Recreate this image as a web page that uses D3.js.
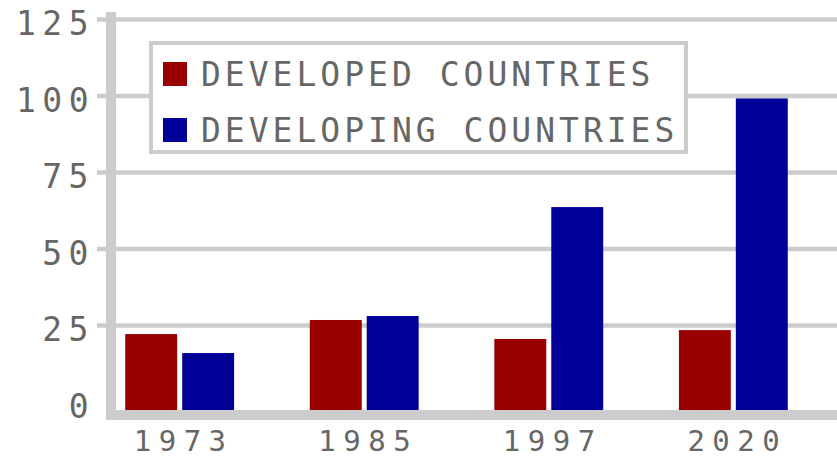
<!DOCTYPE html>
<html>
<head>
<meta charset="utf-8">
<script src="https://cdn.jsdelivr.net/npm/d3@7"></script>
<style>
  body { margin: 0; background: #fff; }
  svg { display: block; }
  .lbl { font-family: "DejaVu Sans Mono", monospace; fill: #666; font-size: 33px; }
</style>
</head>
<body>
<svg width="837" height="458"></svg>
<script>
// values
var years = ["1973", "1985", "1997", "2020"];
var developed = [22.2, 26.8, 20.6, 23.5];
var developing = [16.0, 28.1, 63.7, 99.2];
var seriesNames = ["DEVELOPED COUNTRIES", "DEVELOPING COUNTRIES"];
var seriesColors = ["#990000", "#000099"];
var yTicks = [0, 25, 50, 75, 100, 125];

var svg = d3.select("svg"),
    width = +svg.attr("width"),
    height = +svg.attr("height");

var grey = "#cccccc";

var y = d3.scaleLinear().domain([0, 125]).range([402, 19.5]);
var baseline = y(0) + 8;

var x0 = d3.scaleBand().domain(years).range([116, 797])
    .paddingInner(0.41).paddingOuter(0.05);
var x1 = d3.scaleBand().domain([0, 1]).range([0, x0.bandwidth()])
    .paddingInner(0.0877);

var rows = years.map(function(d, i) {
  return { year: d, values: [developed[i], developing[i]] };
});

// gridlines
svg.append("g")
  .selectAll("line")
  .data(yTicks.filter(function(d) { return d > 0; }))
  .enter().append("line")
    .attr("x1", 97)
    .attr("x2", width)
    .attr("y1", function(d) { return y(d); })
    .attr("y2", function(d) { return y(d); })
    .attr("stroke", grey)
    .attr("stroke-width", 4.5);

// tick labels
svg.append("g")
  .selectAll("text")
  .data(yTicks)
  .enter().append("text")
    .attr("class", "lbl")
    .attr("x", 95)
    .attr("y", function(d) { return y(d) + 4; })
    .attr("text-anchor", "end")
    .attr("dominant-baseline", "central")
    .style("letter-spacing", "6.5px")
    .text(function(d) { return d; });

// bars
var group = svg.append("g")
  .selectAll("g")
  .data(rows)
  .enter().append("g")
    .attr("transform", function(d) { return "translate(" + x0(d.year) + ",0)"; });

group.selectAll("rect")
  .data(function(d) { return d.values; })
  .enter().append("rect")
    .attr("x", function(d, i) { return x1(i); })
    .attr("y", function(d) { return y(d); })
    .attr("width", x1.bandwidth())
    .attr("height", function(d) { return baseline - y(d); })
    .attr("fill", function(d, i) { return seriesColors[i]; });

// axes bars
svg.append("rect")
  .attr("x", 106).attr("y", 12)
  .attr("width", 10).attr("height", baseline + 10 - 12)
  .attr("fill", grey);
svg.append("rect")
  .attr("x", 106).attr("y", baseline)
  .attr("width", width - 106).attr("height", 10)
  .attr("fill", grey);

// x labels
svg.append("g")
  .selectAll("text")
  .data(years)
  .enter().append("text")
    .attr("class", "lbl")
    .attr("x", function(d) { return x0(d) + x0.bandwidth() / 2 + 4; })
    .attr("y", 451)
    .attr("text-anchor", "middle")
    .style("font-size", "29px")
    .style("letter-spacing", "7.5px")
    .text(function(d) { return d; });

// legend
var legend = svg.append("g");
legend.append("rect")
  .attr("x", 151).attr("y", 43)
  .attr("width", 535).attr("height", 109)
  .attr("fill", "#fff")
  .attr("stroke", grey)
  .attr("stroke-width", 4);

var item = legend.selectAll("g")
  .data(seriesNames)
  .enter().append("g")
    .attr("transform", function(d, i) { return "translate(163," + (62 + i * 56) + ")"; });

item.append("rect")
  .attr("width", 24).attr("height", 24)
  .attr("fill", function(d, i) { return seriesColors[i]; });

item.append("text")
  .attr("class", "lbl")
  .attr("x", 38)
  .attr("y", 24)
  .style("letter-spacing", "4px")
  .text(function(d) { return d; });
</script>
</body>
</html>
